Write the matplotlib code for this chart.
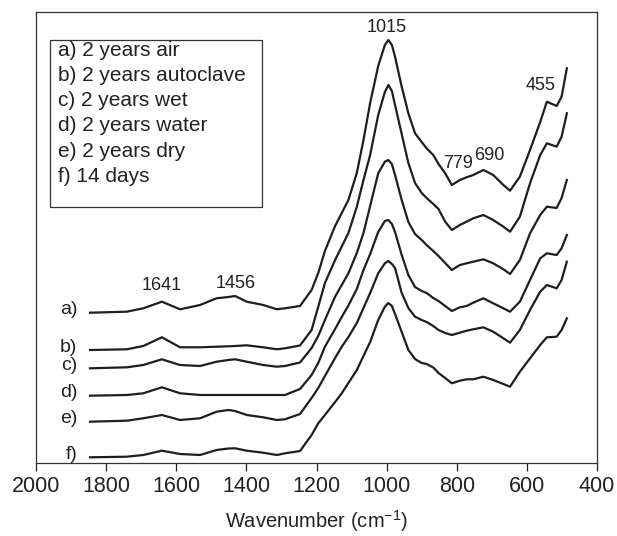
import matplotlib
matplotlib.use("Agg")
import matplotlib.pyplot as plt
from matplotlib.patches import Rectangle

plt.rcParams['font.family'] = ['Liberation Sans', 'DejaVu Sans']
plt.rcParams['mathtext.fontset'] = 'custom'
plt.rcParams['mathtext.rm'] = 'Liberation Sans'

# wavenumbers (cm-1) shared by all spectra
wavenumbers = [1846, 1741, 1694, 1641, 1589, 1532, 1485, 1451, 1432, 1399,
               1352, 1313, 1290, 1247, 1214, 1195, 1176, 1147, 1128, 1109,
               1085, 1066, 1047, 1024, 1005, 995, 985, 976, 957, 938, 919,
               900, 886, 867, 852, 833, 814, 791, 772, 753, 724,
               696, 667, 648, 620, 591, 562, 543, 515, 501, 486]

# absorbance (arbitrary units, stacked)
spec_a = [150.3, 151.3, 154.7, 161.3, 153.7, 158, 164.7, 166, 167, 161.3,
          158, 153.7, 154.7, 157, 173, 190, 212, 237, 250, 263,
          290, 323, 360, 397, 418, 423, 418, 406.3, 376.3, 349.7, 329.7,
          321, 314.7, 308, 299, 289.7, 278, 283, 285.7, 288, 293,
          288, 278, 272.3, 286.3, 313, 341, 361.3, 357, 366.3, 394.7]
spec_b = [113, 113.7, 117, 125.7, 115.7, 115.7, 116.3, 116.7, 117, 117.7,
          115.7, 113.7, 114.7, 117.5, 133, 156.3, 180, 203, 216.5, 230,
          256.3, 283, 308, 348, 371, 378, 372, 358, 329, 300, 280,
          270, 265, 259, 254, 241.3, 233, 238, 241.3, 244.7, 248,
          243, 236.3, 231.3, 246.3, 279.7, 308, 319.7, 316.3, 326.3, 349.7]
spec_c = [94.7, 95.7, 98, 103.7, 98, 97, 101.3, 103, 103.7, 101.3,
          98, 96.3, 97, 100.5, 115, 127, 143, 166.3, 178, 189.7,
          210, 230, 257, 289.7, 301.3, 303, 299, 288, 263, 241, 229,
          223, 218, 212, 207, 200, 193, 198, 199.7, 201.3, 203.7,
          199.7, 193.7, 189, 203, 229.7, 248, 256.3, 255, 265, 283]
spec_d = [67.3, 68, 69.7, 75.7, 69.7, 68, 68, 68, 68, 68,
          68, 68, 68, 74, 88, 100, 116.3, 134, 146, 157.5,
          174, 193, 209, 231, 242, 243, 239, 231, 208, 188, 176,
          172, 170, 165, 162, 157, 152, 155.7, 157, 160.3, 164.7,
          159.7, 154.7, 151.3, 161.3, 183, 204.7, 209.7, 208, 214.7, 228]
spec_e = [41.3, 42.3, 44.7, 48, 43, 44.7, 51.3, 53, 52, 48,
          45.7, 43, 43.7, 49, 65, 75, 87, 105, 116.3, 126,
          140, 155, 170, 189.7, 199.7, 202, 199, 195, 170, 155, 146.3,
          143, 141, 137, 133, 130, 128, 130.3, 132.3, 133.7, 135.7,
          131.3, 124.7, 120.3, 133, 153, 171.3, 178, 174.7, 183, 201.3]
spec_f = [5.7, 6.3, 8, 12.3, 9, 8, 13, 14.5, 14.7, 12.3,
          10.3, 8, 9.7, 12, 28, 39.7, 48, 61, 69.7, 80,
          93, 107, 121, 143, 156.3, 160, 157, 149, 131, 113, 104,
          100, 99, 95.5, 90, 85, 79.7, 82.3, 83.7, 83.7, 86.3,
          83, 79, 76.3, 91.3, 104.7, 118, 125.7, 126.3, 133, 144.7]

curve_tags = ["a)", "b)", "c)", "d)", "e)", "f)"]
legend_lines = ["a) 2 years air", "b) 2 years autoclave", "c) 2 years wet",
                "d) 2 years water", "e) 2 years dry", "f) 14 days"]

# band labels: (text, wavenumber, height)
band_labels = [("1015", 1000, 436), ("455", 560, 377), ("779", 797, 300),
               ("690", 706, 308), ("1641", 1641, 178), ("1456", 1430, 180)]

spectra = [spec_a, spec_b, spec_c, spec_d, spec_e, spec_f]

fig = plt.figure(figsize=(6.17, 5.36), dpi=100)
ax = fig.add_axes([36 / 617, 1 - 463 / 536, 561 / 617, 451 / 536])

line_color = "#1e1e1e"
for tag, spec in zip(curve_tags, spectra):
    ax.plot(wavenumbers, spec, color=line_color, lw=1.6, solid_joinstyle='round')
    ax.text(1882, spec[0] + 3, tag, ha='right', va='center', fontsize=14, color="#222222")

for txt, wn, h in band_labels:
    ax.text(wn, h, txt, ha='center', va='center', fontsize=13, color="#222222")

ax.set_xlim(2000, 400)
ax.set_ylim(0, 451)
ax.set_xticks([2000, 1800, 1600, 1400, 1200, 1000, 800, 600, 400])
ax.set_yticks([])
ax.tick_params(axis='x', direction='out', length=6, width=0.9, pad=3,
               labelsize=15.5, colors="#222222")
for sp in ax.spines.values():
    sp.set_linewidth(0.9)
    sp.set_color("#333333")
ax.set_xlabel(r'Wavenumber (cm$^{-1}$)', fontsize=14.5, color="#222222", labelpad=8)

# legend box
ax.add_patch(Rectangle((14 / 561, 1 - 195 / 451), 212 / 561, 167 / 451,
                       transform=ax.transAxes, fill=False, lw=0.9, edgecolor="#333333"))
for i, s in enumerate(legend_lines):
    ax.text(22 / 561, 1 - (38 + i * 25.3) / 451, s, transform=ax.transAxes,
            ha='left', va='center', fontsize=15, color="#222222")

fig.savefig("out.png", dpi=100)
